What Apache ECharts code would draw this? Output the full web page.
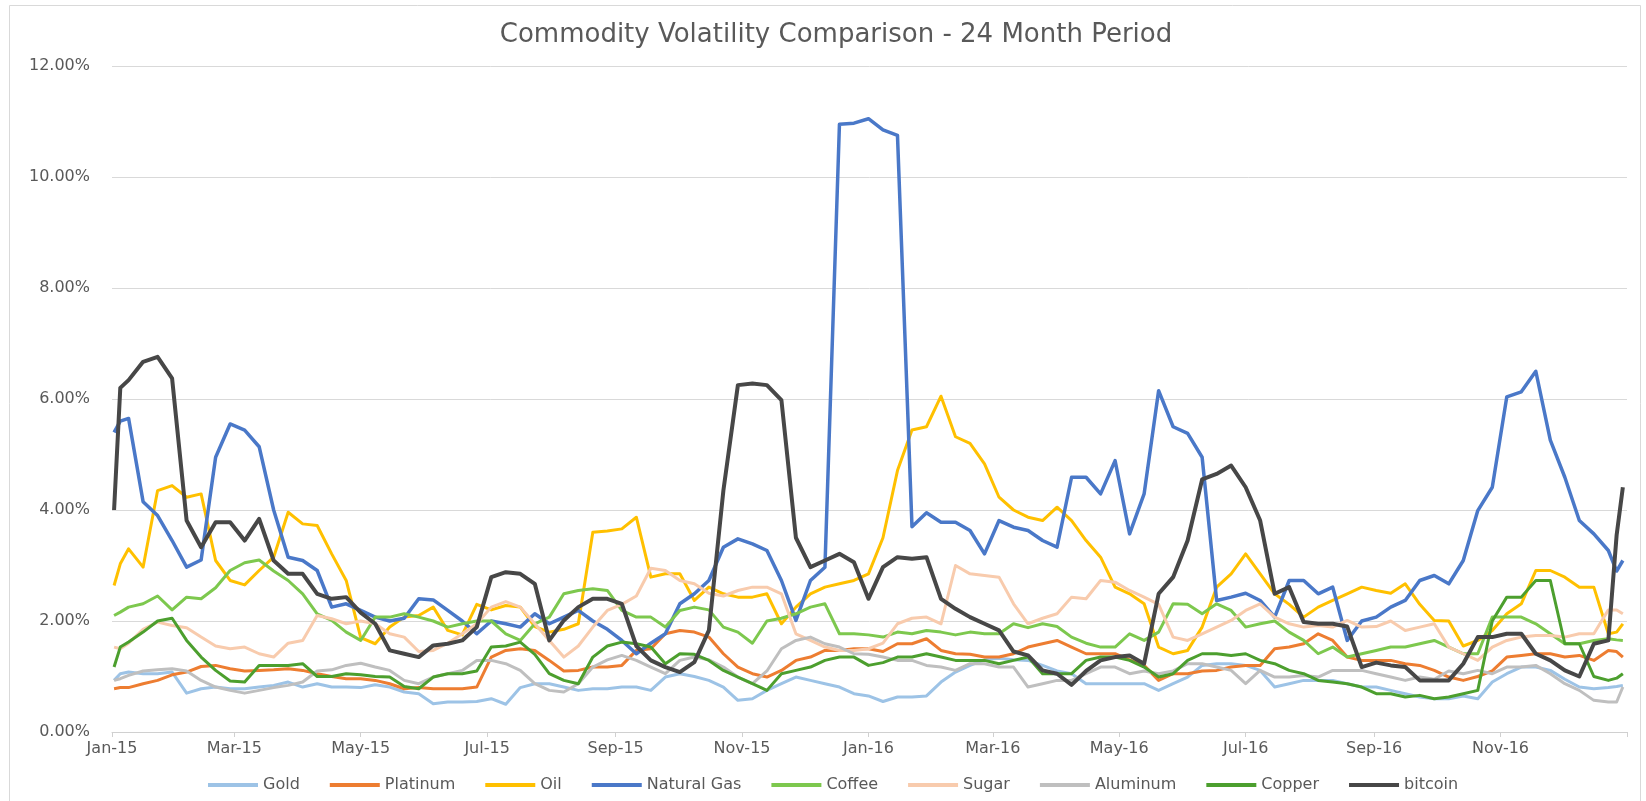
<!DOCTYPE html>
<html>
<head>
<meta charset="utf-8">
<script src="https://cdn.jsdelivr.net/npm/echarts@6/dist/echarts.min.js"></script>
<style>
html,body{margin:0;padding:0;background:#fff;}
#chart{width:1646px;height:801px;}
</style>
</head>
<body>
<div id="chart"></div>
<script>
// ---- DATA ----
const titleText = 'Commodity Volatility Comparison - 24 Month Period';
const tickDates  = ['2015-01-01','2015-03-01','2015-05-01','2015-07-01','2015-09-01','2015-11-01','2016-01-01','2016-03-01','2016-05-01','2016-07-01','2016-09-01','2016-11-01','2017-01-01'];
const tickLabels = ['Jan-15','Mar-15','May-15','Jul-15','Sep-15','Nov-15','Jan-16','Mar-16','May-16','Jul-16','Sep-16','Nov-16',''];
const axisStart = '2015-01-01';
const axisEnd   = '2017-01-01';

const sampleDates = [
 '2015-01-02','2015-01-05','2015-01-09','2015-01-16','2015-01-23','2015-01-30','2015-02-06','2015-02-13','2015-02-20','2015-02-27',
 '2015-03-06','2015-03-13','2015-03-20','2015-03-27','2015-04-03','2015-04-10','2015-04-17','2015-04-24','2015-05-01','2015-05-08',
 '2015-05-15','2015-05-22','2015-05-29','2015-06-05','2015-06-12','2015-06-19','2015-06-26','2015-07-03','2015-07-10','2015-07-17',
 '2015-07-24','2015-07-31','2015-08-07','2015-08-14','2015-08-21','2015-08-28','2015-09-04','2015-09-11','2015-09-18','2015-09-25',
 '2015-10-02','2015-10-09','2015-10-16','2015-10-23','2015-10-30','2015-11-06','2015-11-13','2015-11-20','2015-11-27','2015-12-04',
 '2015-12-11','2015-12-18','2015-12-25','2016-01-01','2016-01-08','2016-01-15','2016-01-22','2016-01-29','2016-02-05','2016-02-12',
 '2016-02-19','2016-02-26','2016-03-04','2016-03-11','2016-03-18','2016-03-25','2016-04-01','2016-04-08','2016-04-15','2016-04-22',
 '2016-04-29','2016-05-06','2016-05-13','2016-05-20','2016-05-27','2016-06-03','2016-06-10','2016-06-17','2016-06-24','2016-07-01',
 '2016-07-08','2016-07-15','2016-07-22','2016-07-29','2016-08-05','2016-08-12','2016-08-19','2016-08-26','2016-09-02','2016-09-09',
 '2016-09-16','2016-09-23','2016-09-30','2016-10-07','2016-10-14','2016-10-21','2016-10-28','2016-11-04','2016-11-11','2016-11-18',
 '2016-11-25','2016-12-02','2016-12-09','2016-12-16','2016-12-23','2016-12-27','2016-12-30'
];

const gold = [
 0.93,1.05,1.08,1.05,1.05,1.08,0.70,0.78,0.81,0.78,
 0.78,0.81,0.84,0.90,0.81,0.87,0.81,0.81,0.80,0.85,
 0.81,0.72,0.69,0.51,0.54,0.54,0.55,0.60,0.50,0.80,
 0.87,0.87,0.81,0.75,0.78,0.78,0.81,0.81,0.75,0.99,
 1.05,1.00,0.93,0.81,0.57,0.60,0.75,0.87,0.99,0.93,
 0.87,0.81,0.69,0.65,0.55,0.63,0.63,0.65,0.90,1.08,
 1.20,1.30,1.33,1.30,1.29,1.20,1.10,1.05,0.87,0.87,
 0.87,0.87,0.87,0.75,0.87,0.99,1.20,1.23,1.23,1.20,
 1.11,0.81,0.87,0.93,0.93,0.93,0.87,0.81,0.81,0.75,
 0.69,0.63,0.60,0.60,0.65,0.60,0.90,1.05,1.17,1.17,
 1.11,0.95,0.81,0.78,0.80,0.82,0.84
];
const platinum = [
 0.78,0.80,0.80,0.87,0.93,1.03,1.08,1.18,1.20,1.14,
 1.10,1.11,1.12,1.14,1.11,1.05,1.00,0.96,0.96,0.93,
 0.87,0.78,0.80,0.78,0.78,0.78,0.81,1.35,1.47,1.50,
 1.47,1.29,1.10,1.11,1.17,1.17,1.20,1.47,1.50,1.77,
 1.83,1.80,1.71,1.41,1.17,1.05,0.99,1.11,1.29,1.35,
 1.47,1.47,1.50,1.50,1.45,1.59,1.59,1.68,1.47,1.41,
 1.40,1.35,1.35,1.41,1.53,1.59,1.65,1.53,1.41,1.41,
 1.41,1.30,1.20,0.93,1.05,1.05,1.10,1.11,1.17,1.20,
 1.20,1.50,1.53,1.59,1.77,1.65,1.35,1.29,1.29,1.29,
 1.23,1.20,1.11,0.99,0.93,1.00,1.10,1.35,1.38,1.41,
 1.41,1.35,1.38,1.29,1.47,1.45,1.35
];
const oil = [
 2.64,3.03,3.30,2.97,4.35,4.44,4.23,4.29,3.09,2.73,
 2.65,2.91,3.15,3.96,3.75,3.72,3.21,2.73,1.70,1.59,
 1.89,2.07,2.10,2.25,1.83,1.75,2.30,2.20,2.28,2.25,
 1.90,1.80,1.85,1.95,3.60,3.62,3.66,3.87,2.79,2.85,
 2.85,2.37,2.61,2.49,2.43,2.43,2.49,1.95,2.25,2.49,
 2.61,2.67,2.73,2.85,3.50,4.71,5.44,5.50,6.05,5.32,
 5.20,4.83,4.23,4.00,3.87,3.81,4.05,3.81,3.45,3.15,
 2.61,2.49,2.31,1.53,1.41,1.47,1.89,2.61,2.85,3.21,
 2.85,2.49,2.30,2.07,2.25,2.37,2.49,2.61,2.55,2.50,
 2.67,2.30,2.01,2.00,1.55,1.65,1.83,2.13,2.31,2.91,
 2.91,2.79,2.61,2.61,1.77,1.80,1.95
];
const naturalGas = [
 5.40,5.60,5.65,4.15,3.90,3.45,2.97,3.10,4.95,5.55,
 5.44,5.14,4.00,3.15,3.09,2.91,2.25,2.31,2.19,2.07,
 2.00,2.05,2.40,2.38,2.19,2.00,1.77,2.00,1.95,1.89,
 2.13,1.95,2.07,2.19,2.00,1.85,1.65,1.41,1.60,1.77,
 2.31,2.49,2.73,3.33,3.48,3.39,3.27,2.73,2.01,2.73,
 2.97,10.95,10.97,11.05,10.85,10.75,3.70,3.95,3.78,3.78,
 3.63,3.21,3.81,3.69,3.63,3.45,3.33,4.59,4.59,4.29,
 4.89,3.57,4.29,6.15,5.50,5.38,4.95,2.37,2.43,2.50,
 2.37,2.07,2.73,2.73,2.49,2.61,1.65,2.00,2.07,2.25,
 2.37,2.73,2.82,2.67,3.09,3.99,4.41,6.04,6.13,6.50,
 5.26,4.59,3.81,3.57,3.27,2.90,3.09
];
const coffee = [
 2.10,2.16,2.25,2.31,2.45,2.20,2.43,2.40,2.60,2.91,
 3.05,3.10,2.90,2.73,2.49,2.13,2.01,1.80,1.65,2.07,
 2.07,2.13,2.07,2.00,1.89,1.95,2.00,2.00,1.77,1.65,
 1.95,2.07,2.49,2.55,2.58,2.55,2.19,2.07,2.07,1.89,
 2.19,2.25,2.20,1.89,1.80,1.60,2.00,2.05,2.13,2.25,
 2.31,1.77,1.77,1.75,1.71,1.80,1.77,1.83,1.80,1.75,
 1.80,1.77,1.77,1.95,1.88,1.95,1.90,1.71,1.60,1.53,
 1.53,1.77,1.65,1.80,2.31,2.30,2.13,2.31,2.19,1.89,
 1.95,2.00,1.80,1.65,1.41,1.53,1.35,1.41,1.47,1.53,
 1.53,1.59,1.65,1.53,1.41,1.41,2.07,2.07,2.07,1.95,
 1.77,1.59,1.59,1.65,1.68,1.66,1.65
];
const sugar = [
 1.53,1.50,1.60,1.85,1.98,1.92,1.88,1.71,1.55,1.50,
 1.53,1.41,1.35,1.60,1.65,2.10,2.04,1.95,2.00,1.95,
 1.77,1.71,1.45,1.47,1.60,1.77,1.95,2.25,2.35,2.25,
 1.95,1.65,1.35,1.55,1.89,2.19,2.30,2.45,2.95,2.91,
 2.73,2.67,2.50,2.45,2.55,2.61,2.61,2.49,1.77,1.65,
 1.53,1.47,1.47,1.50,1.60,1.95,2.05,2.07,1.95,3.00,
 2.85,2.82,2.79,2.31,1.95,2.05,2.13,2.43,2.40,2.73,
 2.70,2.55,2.43,2.30,1.71,1.65,1.77,1.89,2.01,2.19,
 2.31,2.07,1.95,1.89,1.92,1.89,2.01,1.89,1.90,2.00,
 1.83,1.89,1.95,1.53,1.41,1.29,1.53,1.65,1.71,1.74,
 1.74,1.71,1.77,1.77,2.20,2.20,2.13
];
const aluminum = [
 0.93,0.96,1.02,1.10,1.12,1.14,1.10,0.93,0.81,0.75,
 0.70,0.75,0.80,0.84,0.90,1.10,1.12,1.20,1.24,1.17,
 1.11,0.93,0.87,0.99,1.05,1.11,1.29,1.29,1.23,1.11,
 0.87,0.75,0.72,0.87,1.17,1.30,1.38,1.29,1.17,1.05,
 1.29,1.35,1.30,1.17,0.99,0.87,1.10,1.50,1.65,1.71,
 1.59,1.53,1.41,1.40,1.35,1.29,1.29,1.20,1.17,1.11,
 1.23,1.23,1.17,1.17,0.81,0.87,0.93,0.93,1.05,1.17,
 1.17,1.05,1.10,1.05,1.10,1.23,1.23,1.17,1.11,0.87,
 1.11,0.99,0.99,1.02,0.99,1.11,1.11,1.11,1.05,0.99,
 0.93,0.99,0.95,1.10,1.05,1.11,1.05,1.17,1.17,1.20,
 1.05,0.87,0.75,0.57,0.54,0.54,0.81
];
const copper = [
 1.17,1.53,1.62,1.80,2.00,2.05,1.65,1.35,1.11,0.92,
 0.90,1.20,1.20,1.20,1.23,1.00,1.00,1.05,1.03,1.00,
 0.99,0.82,0.78,0.99,1.05,1.05,1.10,1.53,1.55,1.62,
 1.40,1.05,0.93,0.87,1.35,1.55,1.62,1.59,1.53,1.23,
 1.41,1.40,1.29,1.11,0.99,0.87,0.75,1.05,1.11,1.17,
 1.29,1.35,1.35,1.20,1.25,1.35,1.35,1.41,1.35,1.29,
 1.29,1.29,1.23,1.29,1.35,1.05,1.05,1.05,1.29,1.35,
 1.35,1.29,1.17,0.99,1.05,1.29,1.41,1.41,1.38,1.41,
 1.29,1.23,1.11,1.05,0.93,0.90,0.87,0.81,0.69,0.69,
 0.63,0.66,0.60,0.63,0.69,0.75,2.00,2.43,2.43,2.73,
 2.73,1.59,1.59,1.00,0.93,0.97,1.05
];
const bitcoin = [
 4.00,6.20,6.34,6.67,6.76,6.37,3.81,3.33,3.78,3.78,
 3.45,3.84,3.09,2.85,2.85,2.49,2.40,2.43,2.15,1.95,
 1.47,1.41,1.35,1.56,1.59,1.65,1.89,2.79,2.88,2.85,
 2.67,1.65,2.01,2.25,2.40,2.40,2.31,1.55,1.29,1.17,
 1.08,1.26,1.83,4.35,6.25,6.28,6.25,5.98,3.50,2.97,
 3.09,3.21,3.06,2.40,2.97,3.15,3.12,3.15,2.40,2.22,
 2.07,1.95,1.83,1.45,1.38,1.11,1.05,0.85,1.10,1.29,
 1.35,1.38,1.23,2.49,2.79,3.45,4.55,4.65,4.80,4.41,
 3.81,2.49,2.61,1.98,1.95,1.95,1.90,1.17,1.25,1.20,
 1.17,0.93,0.93,0.93,1.23,1.71,1.71,1.77,1.77,1.41,
 1.29,1.11,1.00,1.59,1.65,3.55,4.41
];

const seriesNames  = ['Gold','Platinum','Oil','Natural Gas','Coffee','Sugar','Aluminum','Copper','bitcoin'];
const seriesValues = [gold, platinum, oil, naturalGas, coffee, sugar, aluminum, copper, bitcoin];
const seriesColors = ['#9DC3E6','#ED7D31','#FFC000','#4A78C8','#7DC84E','#F8CBAD','#BFBFBF','#4C9F2E','#474747'];
const seriesWidths = [3,3,3,3.5,3,3,3,3,4];

// ---- BUILD ----
const DAY = 86400000;
function toUTC(s){ const p = s.split('-').map(Number); return Date.UTC(p[0], p[1]-1, p[2]); }
const t0 = toUTC(axisStart), t1 = toUTC(axisEnd);
const categories = [];
for (let t = t0; t <= t1; t += DAY) {
  const d = new Date(t);
  categories.push(d.toISOString().slice(0,10));
}
const dayIndex = s => Math.round((toUTC(s) - t0) / DAY);
const tickIdx = new Map();
tickDates.forEach((d,i) => tickIdx.set(dayIndex(d), tickLabels[i]));

const series = seriesNames.map((name, k) => ({
  name: name,
  type: 'line',
  data: sampleDates.map((d, i) => [dayIndex(d), seriesValues[k][i]]),
  showSymbol: false,
  symbol: 'none',
  lineStyle: { color: seriesColors[k], width: seriesWidths[k], join: 'round' },
  itemStyle: { color: seriesColors[k] },
  emphasis: { disabled: true },
  animation: false
}));

const chart = echarts.init(document.getElementById('chart'), null, { renderer: 'canvas' });
chart.setOption({
  backgroundColor: '#ffffff',
  animation: false,
  title: {
    text: titleText,
    left: 831, top: 17, textAlign: 'center',
    textStyle: { fontFamily: 'DejaVu Sans', fontSize: 26, fontWeight: 'normal', color: '#595959' }
  },
  graphic: [{
    type: 'rect', silent: true, z: -1,
    shape: { x: 9.5, y: 5.5, width: 1631, height: 820 },
    style: { fill: null, stroke: '#d9d9d9', lineWidth: 1 }
  }],
  legend: {
    data: seriesNames,
    left: 203, top: 772,
    itemWidth: 50, itemHeight: 4, itemGap: 30,
    icon: 'rect',
    textStyle: { fontFamily: 'DejaVu Sans', fontSize: 16, color: '#595959' }
  },
  grid: { left: 112, right: 19, top: 66, bottom: 69, containLabel: false },
  xAxis: {
    type: 'category',
    data: categories,
    boundaryGap: false,
    axisLine: { lineStyle: { color: '#d0d0d0', width: 1 } },
    axisTick: {
      show: true, length: 5,
      interval: (idx) => tickIdx.has(idx),
      lineStyle: { color: '#d0d0d0' }
    },
    axisLabel: {
      interval: (idx) => tickIdx.has(idx) && tickIdx.get(idx) !== '',
      formatter: (val, idx) => tickIdx.get(dayIndex(val)) || '',
      margin: 9,
      fontFamily: 'DejaVu Sans', fontSize: 16, color: '#595959'
    },
    splitLine: { show: false }
  },
  yAxis: {
    type: 'value',
    min: 0, max: 12, interval: 2,
    axisLine: { show: false },
    axisTick: { show: false },
    axisLabel: {
      formatter: v => v.toFixed(2) + '%',
      margin: 22,
      fontFamily: 'DejaVu Sans', fontSize: 16, color: '#595959'
    },
    splitLine: { lineStyle: { color: '#d9d9d9', width: 1 } }
  },
  series: series
});
</script>
</body>
</html>
